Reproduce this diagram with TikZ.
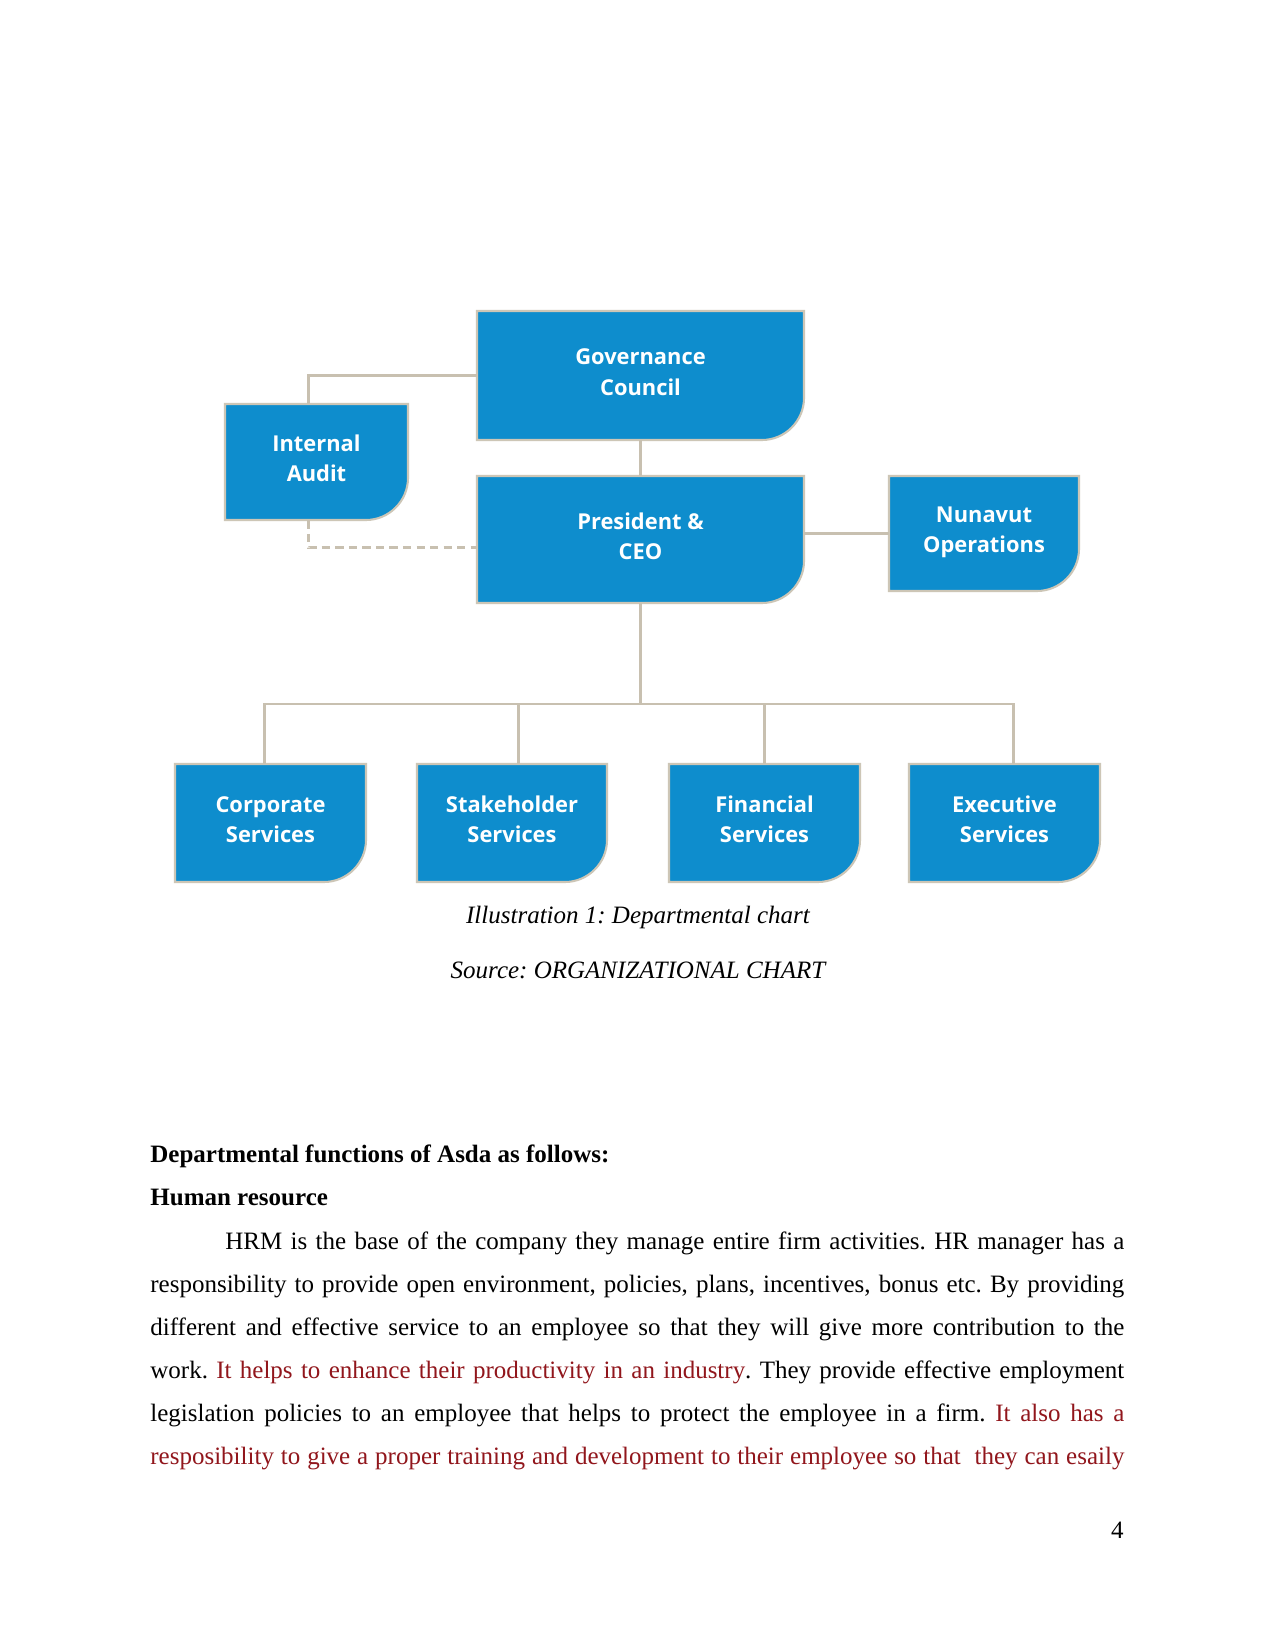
\documentclass[tikz,border=0pt]{standalone}
\usepackage{fontspec}
\setmainfont{Liberation Serif}
\newfontfamily\boxfont{Open Sans}
\definecolor{boxblue}{RGB}{14,141,205}
\definecolor{boxedge}{RGB}{205,198,182}
\definecolor{conn}{RGB}{200,192,176}
\definecolor{darkred}{RGB}{145,22,28}
\newcommand\orgbox[6]{%
  \filldraw[fill=boxblue, draw=boxedge, line width=1pt] (#2,#3) -- (#4,#3) -- (#4,#5-42) .. controls (#4,#5-19) and (#4-19,#5) .. (#4-42,#5) -- (#2,#5) -- cycle;
  \node[orgbox, minimum width={(#4-#2)*0.48pt}, minimum height={(#5-#3)*0.48pt}] (#1) at ({(#2+#4)/2},{(#3+#5)/2}) {#6};
}
\begin{document}
\frenchspacing
\begin{tikzpicture}[x=0.48pt,y=-0.48pt,
  orgbox/.style={rectangle, inner sep=0pt, text depth=3.4pt, font=\boxfont\bfseries\fontsize{10.5}{14.6}\selectfont, text=white, align=center},
  link/.style={draw=conn, line width=1.4pt},
  dlink/.style={link, dash pattern=on 4pt off 2.5pt},
  body/.style={anchor=base west, inner sep=0pt, font=\fontsize{12}{14}\selectfont},
  captext/.style={anchor=base, inner sep=0pt, font=\itshape\fontsize{12}{14}\selectfont}]
\useasboundingbox[fill=white] (0,0) rectangle (1275,1650);

\orgbox{gov}{477}{311}{804}{440}{Governance\\Council}
\orgbox{audit}{225}{404}{408}{520}{Internal\\Audit}
\orgbox{pres}{477}{476}{804}{603}{President \&\\CEO}
\orgbox{nun}{889}{476}{1079}{591}{Nunavut\\Operations}
\orgbox{corp}{175}{764}{366}{882}{Corporate\\Services}
\orgbox{stake}{417}{764}{607}{882}{Stakeholder\\Services}
\orgbox{fin}{669}{764}{860}{882}{Financial\\Services}
\orgbox{exec}{909}{764}{1100}{882}{Executive\\Services}

\draw[link] (gov.west) -| ([xshift=-3.84pt]audit.north);
\draw[link] (gov.south) -- (pres.north);
\draw[link] (pres.east |- nun.west) -- (nun.west);
\draw[dlink] ([xshift=-3.84pt]audit.south) |- ([yshift=-4pt]pres.west);
\coordinate (hub) at (640.5,704);
\draw[link] (pres.south) -- (hub);
\draw[link] ([xshift=-3.1pt]corp.north) |- (hub) -| ([xshift=4.5pt]exec.north);
\draw[link] (hub) -| ([xshift=2.9pt]stake.north);
\draw[link] (hub) -| (fin.north);

\node[captext] (cap1) at (638,923) {Illustration 1: Departmental chart};
\node[captext] (cap2) at (638,978) {Source: ORGANIZATIONAL CHART};

\node[body, font=\bfseries\fontsize{12}{14}\selectfont] (h1) at (150,1162) {Departmental functions of Asda as follows:};
\node[body, font=\bfseries\fontsize{12}{14}\selectfont] (h2) at (150,1205) {Human resource};

\node[body] (l1) at (225,1249) {\makebox[431.5pt][s]{HRM is the base of the company they manage entire firm activities. HR manager has a}};
\node[body] (l2) at (150,1292) {\makebox[467.5pt][s]{responsibility to provide open environment, policies, plans, incentives, bonus etc. By providing}};
\node[body] (l3) at (150,1335) {\makebox[467.5pt][s]{different and effective service to an employee so that they will give more contribution to the}};
\node[body] (l4) at (150,1378) {\makebox[467.5pt][s]{work. \textcolor{darkred}{It helps to enhance their productivity in an industry}. They provide effective employment}};
\node[body] (l5) at (150,1421) {\makebox[467.5pt][s]{legislation policies to an employee that helps to protect the employee in a firm. \textcolor{darkred}{It also has a}}};
\node[body] (l6) at (150,1464) {\makebox[467.5pt][s]{\textcolor{darkred}{resposibility to give a proper training and development to their employee so that \ they can esaily}}};

\node[anchor=base east, inner sep=0pt, font=\fontsize{12}{14}\selectfont] (pg) at (1124,1538) {4};
\end{tikzpicture}
\end{document}
